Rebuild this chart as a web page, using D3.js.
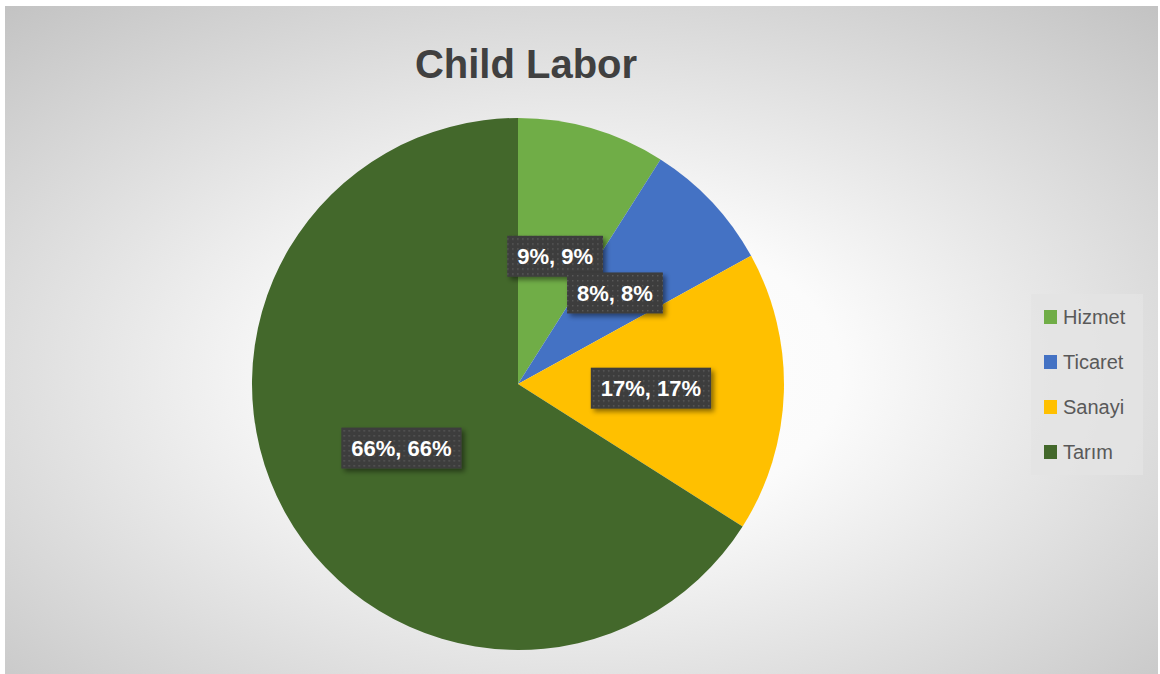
<!DOCTYPE html>
<html>
<head>
<meta charset="utf-8">
<script src="https://cdn.jsdelivr.net/npm/d3@7"></script>
<style>
  body { margin: 0; background: #fff; }
  svg { display: block; }
</style>
</head>
<body>
<div id="chart"></div>
<script>
// chart data
const categories = ['Hizmet', 'Ticaret', 'Sanayi', 'Tarım'];
const shares = [9, 8, 17, 66];
const labels = ['9%, 9%', '8%, 8%', '17%, 17%', '66%, 66%'];
const colors = ['#70ad47', '#4472c4', '#ffc000', '#43682b'];
const title = 'Child Labor';

const width = 1160, height = 674;
const cx = 518, cy = 384, radius = 266;

const svg = d3.select('#chart').append('svg')
    .attr('width', width)
    .attr('height', height);

const defs = svg.append('defs');

// soft radial background like the office chart style
let bg = defs.append('radialGradient')
    .attr('id', 'bg')
    .attr('cx', '50%').attr('cy', '55%')
    .attr('r', '75%');
bg.append('stop').attr('offset', '0%').attr('stop-color', '#ffffff');
bg.append('stop').attr('offset', '30%').attr('stop-color', '#fbfbfb');
bg.append('stop').attr('offset', '100%').attr('stop-color', '#c2c2c2');

// dotted texture for the data labels
let pat = defs.append('pattern')
    .attr('id', 'dots')
    .attr('width', 5).attr('height', 5)
    .attr('patternUnits', 'userSpaceOnUse');
pat.append('rect').attr('width', 5).attr('height', 5).attr('fill', '#3d3d3d');
pat.append('rect').attr('x', 2).attr('y', 2).attr('width', 1.5).attr('height', 1.5).attr('fill', '#595959');

let shadow = defs.append('filter')
    .attr('id', 'shadow')
    .attr('x', '-20%').attr('y', '-20%')
    .attr('width', '150%').attr('height', '160%');
shadow.append('feDropShadow')
    .attr('dx', 3).attr('dy', 3)
    .attr('stdDeviation', 2.5)
    .attr('flood-color', '#000')
    .attr('flood-opacity', 0.45);

svg.append('rect')
    .attr('x', 5).attr('y', 6)
    .attr('width', 1153).attr('height', 668)
    .attr('fill', 'url(#bg)');

svg.append('text')
    .attr('x', 526).attr('y', 78)
    .attr('text-anchor', 'middle')
    .style('font-family', '"Liberation Sans", Arial, sans-serif')
    .style('font-weight', 'bold')
    .style('font-size', '40px')
    .style('fill', '#404040')
    .text(title);

// pie
let pie = d3.pie().sort(null).value(function(d) { return d; });
let arcs = pie(shares);
let arc = d3.arc().innerRadius(0).outerRadius(radius);
let labelArc = d3.arc().innerRadius(radius * 0.5).outerRadius(radius * 0.5);

let g = svg.append('g').attr('transform', 'translate(' + cx + ',' + cy + ')');

g.selectAll('path.slice')
    .data(arcs)
    .enter().append('path')
    .attr('class', 'slice')
    .attr('d', arc)
    .attr('fill', function(d, i) { return colors[i]; });

let lab = g.selectAll('g.label')
    .data(arcs)
    .enter().append('g')
    .attr('class', 'label')
    .attr('transform', function(d) {
        let c = labelArc.centroid(d);
        return 'translate(' + c[0] + ',' + c[1] + ')';
    });

let boxes = lab.append('rect')
    .attr('fill', 'url(#dots)')
    .attr('filter', 'url(#shadow)');

let texts = lab.append('text')
    .attr('text-anchor', 'middle')
    .attr('dy', '0.36em')
    .style('font-family', '"Liberation Sans", Arial, sans-serif')
    .style('font-weight', 'bold')
    .style('font-size', '22px')
    .style('fill', '#ffffff')
    .text(function(d, i) { return labels[i]; });

texts.each(function(d, i) {
    let w = this.getComputedTextLength();
    d3.select(boxes.nodes()[i])
        .attr('x', -w / 2 - 10)
        .attr('y', -20.5)
        .attr('width', w + 20)
        .attr('height', 41);
});

// legend
let legend = svg.append('g');
legend.append('rect')
    .attr('x', 1031).attr('y', 294)
    .attr('width', 112).attr('height', 181)
    .attr('fill', '#e3e3e3')
    .attr('fill-opacity', 0.8);

let rowY = d3.scalePoint()
    .domain(categories)
    .range([317, 452]);

let items = legend.selectAll('g.item')
    .data(categories)
    .enter().append('g')
    .attr('class', 'item')
    .attr('transform', function(d) { return 'translate(1044,' + rowY(d) + ')'; });

items.append('rect')
    .attr('x', 0).attr('y', -7)
    .attr('width', 13).attr('height', 14)
    .attr('fill', function(d, i) { return colors[i]; });

items.append('text')
    .attr('x', 19)
    .attr('dy', '0.36em')
    .style('font-family', '"Liberation Sans", Arial, sans-serif')
    .style('font-size', '20px')
    .style('fill', '#595959')
    .text(function(d) { return d; });
</script>
</body>
</html>
